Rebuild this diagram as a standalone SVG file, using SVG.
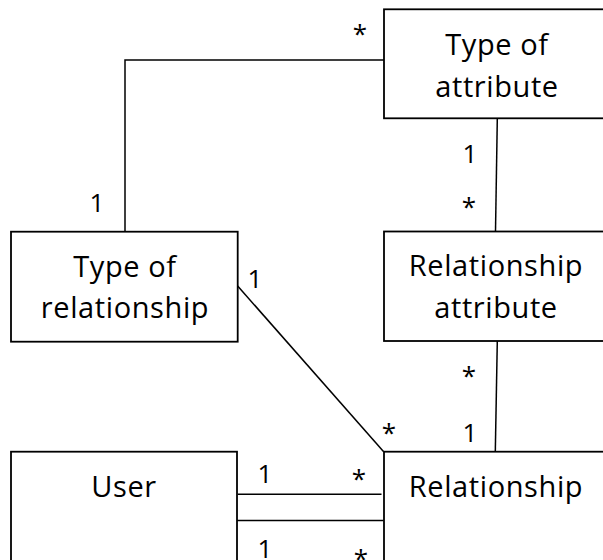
<svg xmlns="http://www.w3.org/2000/svg" width="603" height="560" viewBox="0 0 603 560">
<style>
.box{fill:#fff;stroke:#000;stroke-width:1.8}
.ln{fill:none;stroke:#000;stroke-width:1.5}
.t{font-family:"Open Sans","Noto Sans",sans-serif;font-size:29px;letter-spacing:0.6px;text-anchor:middle;fill:#000}
.m{font-family:"Open Sans","Noto Sans",sans-serif;font-size:26px;text-anchor:middle;fill:#000}
</style>
<rect width="603" height="560" fill="#fff"/>
<g id="connectors">
<polyline class="ln" points="384,60 125,60 125,232"/>
<line class="ln" x1="497.3" y1="119" x2="495.5" y2="231.5"/>
<line class="ln" x1="237.7" y1="286" x2="383.7" y2="451.7"/>
<line class="ln" x1="497.3" y1="341" x2="495.3" y2="451.7"/>
<line class="ln" x1="237.7" y1="494.3" x2="381.5" y2="494.3"/>
<line class="ln" x1="237" y1="520.5" x2="383.7" y2="520.5"/>
<text class="m" x="360" y="43">*</text>
<text class="m" x="97" y="212">1</text>
<text class="m" x="470" y="163">1</text>
<text class="m" x="469" y="216">*</text>
<text class="m" x="255" y="288">1</text>
<text class="m" x="469" y="385">*</text>
<text class="m" x="389" y="442">*</text>
<text class="m" x="470" y="442">1</text>
<text class="m" x="265" y="483">1</text>
<text class="m" x="359" y="488">*</text>
<text class="m" x="265" y="558">1</text>
<text class="m" x="361" y="568">*</text>
</g>
<g id="type-of-attribute">
<rect class="box" x="384" y="9.3" width="230" height="109"/>
<text class="t" x="497" y="55">Type of</text>
<text class="t" x="497" y="97">attribute</text>
</g>
<g id="type-of-relationship">
<rect class="box" x="11" y="231.7" width="226.7" height="110"/>
<text class="t" x="125" y="277">Type of</text>
<text class="t" x="125" y="318">relationship</text>
</g>
<g id="relationship-attribute">
<rect class="box" x="384" y="231.5" width="230" height="109.5"/>
<text class="t" x="496" y="276">Relationship</text>
<text class="t" x="496" y="318">attribute</text>
</g>
<g id="user">
<rect class="box" x="11" y="451.7" width="226" height="120"/>
<text class="t" x="124" y="497">User</text>
</g>
<g id="relationship">
<rect class="box" x="384" y="451.7" width="230" height="120"/>
<text class="t" x="496" y="497">Relationship</text>
</g>
</svg>
